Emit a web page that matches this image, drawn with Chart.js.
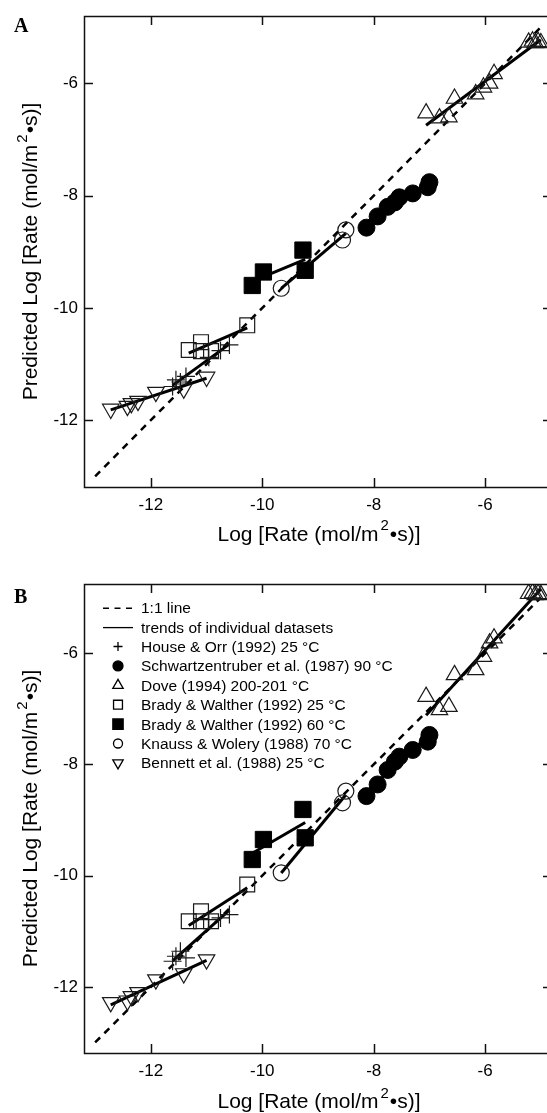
<!DOCTYPE html>
<html><head><meta charset="utf-8">
<script src="https://cdn.jsdelivr.net/npm/chart.js@4.4.1/dist/chart.umd.min.js"></script>
<style>
html,body{margin:0;padding:0;background:#fff;overflow:hidden;}
#wrap{position:relative;width:547px;height:1113px;overflow:hidden;background:#fff;}
canvas{position:absolute;left:0;}
#ca{top:0;} #cb{top:556px;}
</style></head><body>
<div id="wrap"><canvas id="ca" width="556" height="556"></canvas><canvas id="cb" width="556" height="557"></canvas></div>
<script>
// ---- tick labels / ranges ----
const X_TICKS = [-12, -10, -8, -6];
const Y_TICKS = [-12, -10, -8, -6];
const ONE_TO_ONE = [-13, -5];

// ---- data: measured log rate (x), predicted log rate panel A (ya), panel B (yb) ----
const X_HOUSE  = [-11.61, -11.55, -11.47, -11.37, -10.96, -10.75, -10.59];
const YA_HOUSE = [-11.4, -11.28, -11.32, -11.22, -10.88, -10.76, -10.66];
const YB_HOUSE = [-11.54, -11.45, -11.36, -11.48, -10.79, -10.76, -10.7];

const X_SCH  = [-8.13, -7.93, -7.75, -7.62, -7.54, -7.3, -7.03, -7.0];
const YA_SCH = [-8.57, -8.37, -8.2, -8.12, -8.03, -7.96, -7.85, -7.76];
const YB_SCH = [-8.57, -8.36, -8.1, -7.95, -7.86, -7.74, -7.59, -7.47];

const X_DOVE  = [-7.06, -6.82, -6.65, -6.55, -6.17, -6.03, -5.92, -5.84, -5.22, -5.15, -5.1, -5.05, -5.0];
const YA_DOVE = [-6.53, -6.62, -6.6, -6.27, -6.19, -6.07, -6.0, -5.83, -5.27, -5.25, -5.28, -5.26, -5.28];
const YB_DOVE = [-6.78, -7.02, -6.96, -6.39, -6.3, -6.06, -5.82, -5.73, -4.93, -4.92, -4.95, -4.93, -4.95];

const X_BW25  = [-11.32, -11.1, -11.1, -10.92, -10.27];
const YA_BW25 = [-10.75, -10.61, -10.77, -10.77, -10.31];
const YB_BW25 = [-10.82, -10.64, -10.82, -10.82, -10.16];

const X_BW60  = [-10.18, -9.98, -9.27, -9.23];
const YA_BW60 = [-9.6, -9.36, -8.97, -9.33];
const YB_BW60 = [-9.71, -9.35, -8.81, -9.32];

const X_KW  = [-9.66, -8.56, -8.5];
const YA_KW = [-9.65, -8.79, -8.61];
const YB_KW = [-9.95, -8.69, -8.48];

const X_BEN  = [-12.72, -12.42, -12.35, -12.23, -11.91, -11.41, -11.0];
const YA_BEN = [-11.8, -11.75, -11.7, -11.66, -11.5, -11.44, -11.23];
const YB_BEN = [-12.28, -12.25, -12.17, -12.1, -11.87, -11.76, -11.51];

const LEGEND_LABELS = ['1:1 line', 'trends of individual datasets',
  'House & Orr (1992) 25 \u00B0C', 'Schwartzentruber et al. (1987) 90 \u00B0C',
  'Dove (1994) 200-201 \u00B0C', 'Brady & Walther (1992) 25 \u00B0C',
  'Brady & Walther (1992) 60 \u00B0C', 'Knauss & Wolery (1988) 70 \u00B0C',
  'Bennett et al. (1988) 25 \u00B0C'];

// ---- helpers ----
const FONT = "'Liberation Sans', Arial, Helvetica, sans-serif";
function pts(xs, ys) { return xs.map((x, i) => ({x: x, y: ys[i]})); }
function fit(xs, ys) {
  const n = xs.length;
  const mx = xs.reduce((a, b) => a + b, 0) / n, my = ys.reduce((a, b) => a + b, 0) / n;
  let sxy = 0, sxx = 0;
  for (let i = 0; i < n; i++) { sxy += (xs[i] - mx) * (ys[i] - my); sxx += (xs[i] - mx) ** 2; }
  const b = sxy / sxx, a = my - b * mx;
  const lo = Math.min(...xs), hi = Math.max(...xs);
  return [{x: lo, y: a + b * lo}, {x: hi, y: a + b * hi}];
}

const STYLES = [
  {key: 'HOUSE', pointStyle: 'cross', radius: 9, fill: false, lw: 1.2, lr: 4.5},
  {key: 'SCH', pointStyle: 'circle', radius: 8.5, fill: true, lw: 1, lr: 5},
  {key: 'DOVE', pointStyle: 'triangle', radius: 9.5, fill: false, lw: 1.2, lr: 6},
  {key: 'BW25', pointStyle: 'rect', radius: 10.5, fill: false, lw: 1.2, lr: 6.3},
  {key: 'BW60', pointStyle: 'rect', radius: 11.5, fill: true, lw: 1, lr: 7.3},
  {key: 'KW', pointStyle: 'circle', radius: 8, fill: false, lw: 1.2, lr: 4.5},
  {key: 'BEN', pointStyle: 'triangle', radius: 9.5, fill: false, lw: 1.2, lr: 6, rotation: 180}
];
const SERIES_X = {HOUSE: X_HOUSE, SCH: X_SCH, DOVE: X_DOVE, BW25: X_BW25, BW60: X_BW60, KW: X_KW, BEN: X_BEN};
const SERIES_YA = {HOUSE: YA_HOUSE, SCH: YA_SCH, DOVE: YA_DOVE, BW25: YA_BW25, BW60: YA_BW60, KW: YA_KW, BEN: YA_BEN};
const SERIES_YB = {HOUSE: YB_HOUSE, SCH: YB_SCH, DOVE: YB_DOVE, BW25: YB_BW25, BW60: YB_BW60, KW: YB_KW, BEN: YB_BEN};

function buildDatasets(Y) {
  const ds = [];
  ds.push({data: ONE_TO_ONE.map(v => ({x: v, y: v})), showLine: true, pointRadius: 0,
    borderColor: '#000', borderWidth: 2.5, borderDash: [7, 6], order: 20});
  STYLES.forEach(s => {
    ds.push({data: fit(SERIES_X[s.key], Y[s.key]), showLine: true, pointRadius: 0,
      borderColor: '#000', borderWidth: 3, order: 10});
  });
  STYLES.forEach(s => {
    ds.push({data: pts(SERIES_X[s.key], Y[s.key]), showLine: false,
      pointStyle: s.pointStyle, pointRadius: s.radius, pointRotation: s.rotation || 0,
      pointBackgroundColor: s.fill ? '#000' : 'rgba(0,0,0,0)',
      pointBorderColor: s.fill ? '#000' : '#1a1a1a', pointBorderWidth: s.lw,
      pointHoverRadius: s.radius, order: 0});
  });
  return ds;
}

function supParts(prefix, size) {
  return [[prefix + 'Log [Rate (mol/m', size, 0, 0], ['2', Math.round(size * 0.7), -size * 0.5, 2], ['\u2022s)]', size, 0, 1]];
}
function drawParts(ctx, parts, cx, baseY) {
  let total = 0;
  parts.forEach(p => { ctx.font = p[1] + 'px ' + FONT; total += ctx.measureText(p[0]).width + p[3]; });
  let x = cx - total / 2;
  ctx.textAlign = 'left'; ctx.textBaseline = 'alphabetic';
  parts.forEach(p => {
    x += p[3];
    ctx.font = p[1] + 'px ' + FONT;
    ctx.fillText(p[0], x, baseY + p[2]);
    x += ctx.measureText(p[0]).width;
  });
}

function framePlugin(cfg) {
  return {
    id: 'frame' + cfg.letter,
    afterDraw(chart) {
      const ctx = chart.ctx, a = chart.chartArea, xs = chart.scales.x, ys = chart.scales.y;
      ctx.save();
      ctx.strokeStyle = '#111'; ctx.lineWidth = 1.5; ctx.setLineDash([]);
      ctx.strokeRect(a.left + 0.5, a.top + 0.5, a.right - a.left, a.bottom - a.top);
      const TL = 9;
      ctx.beginPath();
      X_TICKS.forEach(v => {
        const px = Math.round(xs.getPixelForValue(v)) + 0.5;
        ctx.moveTo(px, a.bottom); ctx.lineTo(px, a.bottom - TL);
        ctx.moveTo(px, a.top); ctx.lineTo(px, a.top + TL);
      });
      Y_TICKS.forEach(v => {
        const py = Math.round(ys.getPixelForValue(v)) + 0.5;
        ctx.moveTo(a.left, py); ctx.lineTo(a.left + TL, py);
        ctx.moveTo(a.right, py); ctx.lineTo(a.right - TL, py);
      });
      ctx.stroke();
      ctx.fillStyle = '#000';
      drawParts(ctx, supParts('', 21), (a.left + a.right) / 2 + 1, cfg.xTitleBase);
      ctx.save();
      ctx.translate(cfg.yTitleBase, (a.top + a.bottom) / 2);
      ctx.rotate(-Math.PI / 2);
      drawParts(ctx, supParts('Predicted ', 21), 0, 0);
      ctx.restore();
      ctx.font = "bold 20px 'Liberation Serif', 'Times New Roman', serif";
      ctx.textAlign = 'left'; ctx.textBaseline = 'alphabetic';
      ctx.fillText(cfg.letter, 14, cfg.letterBase);
      if (cfg.legend) drawLegend(ctx);
      ctx.restore();
    }
  };
}

function drawLegend(ctx) {
  const y0 = 51.7, dy = 19.4, sx = 118, tx = 141;
  ctx.fillStyle = '#000';
  ctx.font = '15.5px ' + FONT; ctx.textAlign = 'left'; ctx.textBaseline = 'alphabetic';
  LEGEND_LABELS.forEach((t, i) => ctx.fillText(t, tx, y0 + i * dy + 5.5));
  ctx.strokeStyle = '#000';
  ctx.lineWidth = 1.5; ctx.setLineDash([6, 5.5]);
  ctx.beginPath(); ctx.moveTo(103, y0 + 0.5); ctx.lineTo(137, y0 + 0.5); ctx.stroke();
  ctx.setLineDash([]); ctx.lineWidth = 1.3;
  ctx.beginPath(); ctx.moveTo(103, y0 + dy + 0.5); ctx.lineTo(133, y0 + dy + 0.5); ctx.stroke();
  STYLES.forEach((s, i) => {
    ctx.fillStyle = s.fill ? '#000' : 'rgba(0,0,0,0)';
    ctx.strokeStyle = '#000'; ctx.lineWidth = 1.3;
    Chart.helpers.drawPoint(ctx, {pointStyle: s.pointStyle, radius: s.lr, rotation: s.rotation || 0, borderWidth: 1.3}, sx, y0 + (i + 2) * dy);
  });
}

function makeChart(id, Y, yRange, cfg) {
  const xh = cfg.h - cfg.bottom;
  return new Chart(document.getElementById(id), {
    type: 'scatter',
    data: {datasets: buildDatasets(Y)},
    options: {
      responsive: false, animation: false, devicePixelRatio: 1,
      layout: {autoPadding: false, padding: {left: 0, right: 4, top: cfg.top, bottom: 0}},
      plugins: {legend: {display: false}, tooltip: {enabled: false}},
      events: [],
      scales: {
        x: {type: 'linear', min: -13.2, max: -4.8,
          afterBuildTicks: s => { s.ticks = X_TICKS.map(v => ({value: v})); },
          afterFit: s => { s.height = xh; s.paddingLeft = 0; s.paddingRight = 0; },
          grid: {display: false, drawTicks: false}, border: {display: false},
          ticks: {color: '#000', font: {family: FONT, size: 17}, padding: 8, maxRotation: 0, autoSkip: false}},
        y: {type: 'linear', min: yRange[0], max: yRange[1],
          afterBuildTicks: s => { s.ticks = Y_TICKS.map(v => ({value: v})); },
          afterFit: s => { s.width = 84; s.paddingTop = 0; s.paddingBottom = 0; },
          grid: {display: false, drawTicks: false}, border: {display: false},
          ticks: {color: '#000', font: {family: FONT, size: 17}, padding: 6, autoSkip: false}}
      }
    },
    plugins: [framePlugin(cfg)]
  });
}

makeChart('ca', SERIES_YA, [-13.19, -4.8], {h: 556, top: 16, bottom: 487, letter: 'A', letterBase: 32,
  xTitleBase: 540.5, yTitleBase: 37, legend: false});
makeChart('cb', SERIES_YB, [-13.19, -4.755], {h: 557, top: 28, bottom: 497, letter: 'B', letterBase: 47,
  xTitleBase: 552, yTitleBase: 37, legend: true});
</script>
</body></html>
